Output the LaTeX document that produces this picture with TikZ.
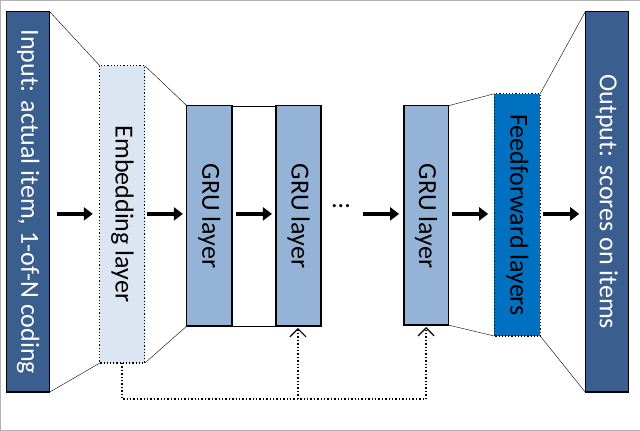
\documentclass[tikz,border=0pt]{standalone}
\usepackage{fontspec}
\setmainfont{Carlito}
\usetikzlibrary{arrows.meta}
\definecolor{dark}{HTML}{3A5F8F}
\definecolor{light}{HTML}{DCE6F2}
\definecolor{mid}{HTML}{95B3D7}
\definecolor{ff}{HTML}{0070C0}
\begin{document}
\begin{tikzpicture}[x=1pt,y=-1pt,
  box/.style={draw=black,line width=1.2pt,inner sep=0pt},
  lab/.style={rotate=-90,font=\fontsize{26}{30}\selectfont},
  big/.style={-{Triangle[length=9pt,width=13pt]},line width=4pt},
  fb/.style={dotted,line width=1.4pt,-{Straight Barb[length=8pt,width=16pt,line width=1.2pt,sep=0pt]}}]
\draw[gray!60] (0.5,0.5) rectangle (639.5,430.5);
\path[box,fill=dark] (7,12) rectangle (50,392);
\node[lab,text=white] (in) at (28.5,202) {Input: actual item, 1-of-N coding};
\path[box,fill=light,dotted] (100,66) rectangle (145,363);
\node[lab] (emb) at (122.5,214) {Embedding layer};
\path[box,fill=mid] (187,106) rectangle (232,326);
\node[lab] (g1) at (209.5,216) {GRU layer};
\path[box,fill=mid] (276,106) rectangle (321,326);
\node[lab] (g2) at (298.5,216) {GRU layer};
\path[box,fill=mid] (404,106) rectangle (448,325);
\node[lab] (g3) at (426,216) {GRU layer};
\path[box,fill=ff,dotted] (494,94) rectangle (540,336);
\node[lab] (ffn) at (517,215) {Feedforward layers};
\path[box,fill=dark] (585,12) rectangle (628,392);
\node[lab,text=white] (out) at (606.5,202) {Output: scores on items};
\draw (50,12)--(100,66) (50,392)--(100,363);
\draw (145,66)--(187,106) (145,363)--(187,326);
\draw (232,106)--(276,106) (232,326)--(276,326);
\draw (448,106)--(494,94) (448,325)--(494,336);
\draw (540,94)--(585,12) (540,336)--(585,392);
\draw[big] (57,214)--(93,214);
\draw[big] (147,214)--(183,214);
\draw[big] (236,214)--(272,214);
\node (dots) at (341,206) {\fontsize{26}{30}\selectfont ...};
\draw[big] (363,214)--(399,214);
\draw[big] (452,214)--(488,214);
\draw[big] (543,214)--(579,214);
\draw[dotted,line width=1.4pt] (122,363)--(122,399)--(426,399);
\draw[fb] (298,399)--(298,328);
\draw[fb] (426,399)--(426,327);
\end{tikzpicture}
\end{document}
